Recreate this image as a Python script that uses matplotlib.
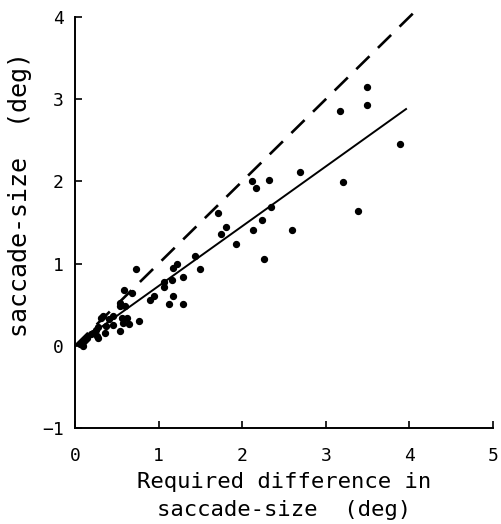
import matplotlib
matplotlib.use("Agg")
import matplotlib.pyplot as plt

# required difference in saccade size (deg) vs actual saccade size (deg)
required = [0.06, 0.09, 0.10, 0.12, 0.14, 0.19, 0.22, 0.25, 0.26, 0.28,
            0.28, 0.31, 0.34, 0.36, 0.37, 0.41, 0.45, 0.46, 0.54, 0.54,
            0.60, 0.56, 0.62, 0.58, 0.64, 0.54, 0.76, 0.59, 0.68, 0.73,
            0.90, 0.95, 1.12, 1.29, 1.17, 1.07, 1.06, 1.16, 1.29, 1.17,
            1.22, 1.44, 1.50, 1.71, 1.81, 1.75, 1.93, 2.13, 2.12, 2.17,
            2.32, 2.24, 2.34, 2.26, 2.59, 2.69, 3.17, 3.20, 3.39, 3.49,
            3.49, 3.89]
saccade = [0.02, 0.00, 0.05, 0.07, 0.10, 0.14, 0.16, 0.19, 0.12, 0.23,
           0.10, 0.34, 0.36, 0.16, 0.24, 0.32, 0.25, 0.36, 0.52, 0.48,
           0.48, 0.34, 0.34, 0.28, 0.26, 0.18, 0.30, 0.68, 0.64, 0.93,
           0.56, 0.61, 0.51, 0.51, 0.61, 0.71, 0.78, 0.80, 0.84, 0.95,
           0.99, 1.09, 0.93, 1.61, 1.45, 1.36, 1.24, 1.41, 2.01, 1.92,
           2.02, 1.53, 1.69, 1.06, 1.41, 2.12, 2.86, 1.99, 1.64, 3.15,
           2.93, 2.46]

identity_x = [0, 4.05]
identity_y = [0, 4.05]
fit_x = [0, 3.96]
fit_y = [0, 2.88]

plt.rcParams["font.family"] = "DejaVu Sans Mono"

fig = plt.figure(figsize=(5.01, 5.24), dpi=100)
ax = fig.add_axes([0.1497, 0.1832, 0.8343, 0.7844])

ax.plot(identity_x, identity_y, color="black", lw=1.9, dashes=(7, 4.5),
        clip_on=False)
ax.plot(fit_x, fit_y, color="black", lw=1.4)
ax.scatter(required, saccade, s=18, color="black", zorder=3)

ax.set_xlim(0, 5)
ax.set_ylim(-1, 4)
ax.set_xticks([0, 1, 2, 3, 4, 5])
ax.set_yticks([-1, 0, 1, 2, 3, 4])
ax.set_yticklabels(["\u22121", "0", "1", "2", "3", "4"])

for s in ["top", "right"]:
    ax.spines[s].set_visible(False)
for s in ["left", "bottom"]:
    ax.spines[s].set_linewidth(1.4)

ax.tick_params(axis="x", direction="in", length=5, width=1.2, pad=14,
               labelsize=13)
ax.tick_params(axis="y", direction="in", length=5, width=1.2, pad=8,
               labelsize=13)

ax.set_xlabel("Required difference in\nsaccade-size  (deg)", fontsize=16,
              linespacing=1.5, labelpad=5)
ax.set_ylabel("saccade-size  (deg)", fontsize=18)
ax.yaxis.set_label_coords(-0.102, 0.567)

fig.savefig("out.png", dpi=100)
